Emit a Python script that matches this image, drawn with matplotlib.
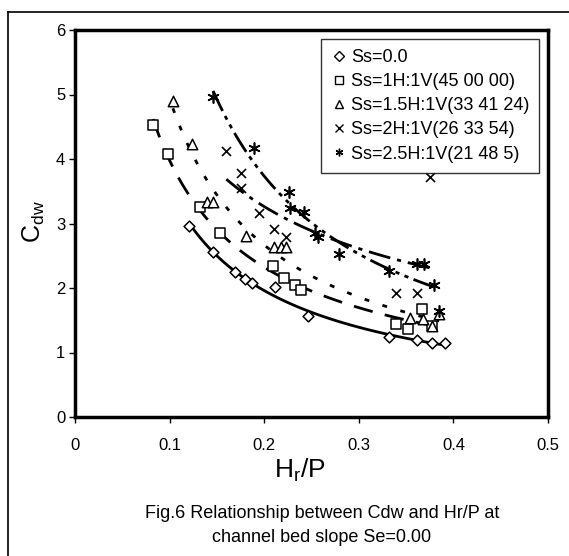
import numpy as np
import matplotlib.pyplot as plt
from matplotlib.lines import Line2D

plt.rcParams['font.family'] = ['Liberation Sans', 'DejaVu Sans']
plt.rcParams['lines.scale_dashes'] = False

# data
hr_p_0 = [0.121, 0.146, 0.169, 0.180, 0.187, 0.211, 0.246, 0.332, 0.362, 0.377, 0.391]
cdw_0 = [2.96, 2.56, 2.25, 2.14, 2.07, 2.02, 1.57, 1.24, 1.19, 1.14, 1.14]

hr_p_1 = [0.0825, 0.098, 0.132, 0.153, 0.209, 0.221, 0.233, 0.239, 0.339, 0.352, 0.367, 0.377]
cdw_1 = [4.53, 4.08, 3.26, 2.85, 2.34, 2.16, 2.05, 1.97, 1.44, 1.37, 1.68, 1.41]

hr_p_15 = [0.1035, 0.124, 0.140, 0.146, 0.181, 0.2105, 0.2175, 0.223, 0.354, 0.368, 0.377, 0.385]
cdw_15 = [4.90, 4.23, 3.34, 3.34, 2.81, 2.64, 2.64, 2.64, 1.54, 1.52, 1.41, 1.60]

hr_p_2 = [0.160, 0.175, 0.175, 0.194, 0.2105, 0.223, 0.339, 0.362, 0.375]
cdw_2 = [4.12, 3.79, 3.55, 3.17, 2.91, 2.79, 1.92, 1.92, 3.72]

hr_p_25 = [0.146, 0.189, 0.226, 0.227, 0.242, 0.254, 0.257, 0.279, 0.332, 0.362, 0.369, 0.379, 0.385]
cdw_25 = [4.96, 4.17, 3.49, 3.24, 3.18, 2.85, 2.79, 2.53, 2.27, 2.37, 2.37, 2.05, 1.65]

labels = ['Ss=0.0', 'Ss=1H:1V(45 00 00)', 'Ss=1.5H:1V(33 41 24)',
          'Ss=2H:1V(26 33 54)', 'Ss=2.5H:1V(21 48 5)']

series = [(hr_p_0, cdw_0), (hr_p_1, cdw_1), (hr_p_15, cdw_15),
          (hr_p_2, cdw_2), (hr_p_25, cdw_25)]
markers = ['D', 's', '^', 'x', (6, 2, 0)]
msizes = [5.5, 6.5, 7.5, 6.5, 8]
dashes = ['-', (0, (14, 9)), (0, (3.5, 10)), (0, (16, 5, 3, 5)), (0, (16, 4, 3, 4, 3, 4))]

fig = plt.figure(figsize=(5.69, 5.56), dpi=100)
ax = fig.add_axes([75/569, 1-417/556, 473/569, 387/556])

handles = []
for (x, y), m, ms, ls, lab in zip(series, markers, msizes, dashes, labels):
    x = np.array(x)
    y = np.array(y)
    # power trendline, like excel
    b, lna = np.polyfit(np.log(x), np.log(y), 1)
    xf = np.linspace(x.min(), x.max(), 100)
    ax.plot(xf, np.exp(lna) * xf**b, color='black', lw=2.0, linestyle=ls)
    if m == 'x' or isinstance(m, tuple):
        ax.scatter(x, y, marker=m, s=ms**2, color='black', linewidths=1.2, zorder=3)
    else:
        ax.scatter(x, y, marker=m, s=ms**2, facecolors='white',
                   edgecolors='black', linewidths=1.1, zorder=3)
    handles.append(Line2D([], [], marker=m, linestyle='none', markersize=5.5,
                          markerfacecolor='white', markeredgecolor='black',
                          markeredgewidth=1.0, color='black', label=lab))

ax.set_xlim(0, 0.5)
ax.set_ylim(0, 6)
ax.set_xticks([0, 0.1, 0.2, 0.3, 0.4, 0.5])
ax.set_xticklabels(['0', '0.1', '0.2', '0.3', '0.4', '0.5'])
ax.set_yticks([0, 1, 2, 3, 4, 5, 6])
ax.tick_params(direction='out', length=4, width=1, labelsize=12, pad=11)
ax.tick_params(axis='y', pad=3)
for s in ax.spines.values():
    s.set_linewidth(2.5)

fig.text(300/569, 1-477/556, 'H$_\\mathregular{r}$/P', fontsize=19,
         ha='center', va='baseline')
fig.text(34/569, 1-222/556, 'C$_\\mathregular{dw}$', fontsize=18,
         ha='center', va='center', rotation=90)

leg = ax.legend(handles=handles, loc='upper right', bbox_to_anchor=(0.982, 0.977),
                fontsize=13, frameon=True, fancybox=False, edgecolor='black',
                handlelength=0.8, handletextpad=0.3, labelspacing=0.4,
                borderpad=0.55, borderaxespad=0)
leg.get_frame().set_linewidth(1.0)
leg.set_zorder(5)

fig.text(322/569, 1-514/556, 'Fig.6 Relationship between Cdw and Hr/P at',
         ha='center', va='center', fontsize=13)
fig.text(322/569, 1-538/556, 'channel bed slope Se=0.00',
         ha='center', va='center', fontsize=13)

# outer frame
fig.add_artist(Line2D([8/569, 8/569], [0, 1-12/556], color='black', lw=1.2))
fig.add_artist(Line2D([8/569, 1], [1-12/556, 1-12/556], color='black', lw=1.2))

fig.savefig('out.png', dpi=100)
